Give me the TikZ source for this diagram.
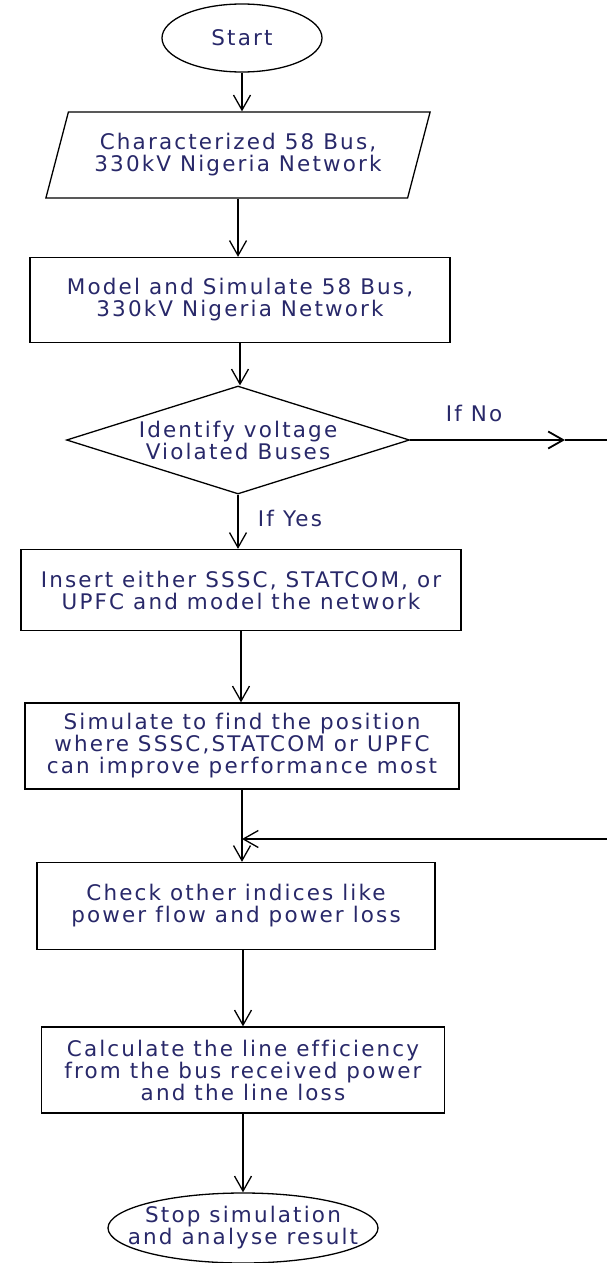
\documentclass[tikz,border=0pt]{standalone}
\usepackage{fontspec}
\newfontfamily\flowfont{DejaVu Sans}[LetterSpace=10,Ligatures=CommonOff]
\usetikzlibrary{shapes.geometric,arrows.meta}
\definecolor{navytext}{RGB}{40,40,105}

\begin{document}
\begin{tikzpicture}[
    x=1pt,y=-1pt,
    every node/.style={font=\flowfont\fontsize{21.5}{22}\selectfont, text=navytext, align=center, inner sep=0pt},
    arr/.style={-{Straight Barb[length=15pt,width=17pt]}, line width=1.3pt},
    box/.style={draw, line width=1.3pt, rectangle},
    term/.style={draw, line width=1.3pt, ellipse},
    io/.style={draw, line width=1.3pt, trapezium, trapezium left angle=66, trapezium right angle=114, trapezium stretches=true},
    decide/.style={draw, line width=1.3pt, diamond, aspect=3.2}
    ]
    \useasboundingbox (0,0) rectangle (607,1263);
    \node[term, minimum width=160pt, minimum height=68pt] (start) at (242,38) {Start};
    \node[io, minimum width=385pt, minimum height=86pt] (charac) at (238,155) {Characterized 58 Bus,\\330kV Nigeria Network};
    \node[box, minimum width=420pt, minimum height=85pt] (model) at (240,300) {Model and Simulate 58 Bus,\\330kV Nigeria Network};
    \node[decide, minimum width=343pt, minimum height=108pt] (ident) at (238,440) {Identify voltage\\Violated Buses};
    \node (ifno) at (474,413) {If No};
    \node (ifyes) at (290,518) {If Yes};
    \node[box, minimum width=440pt, minimum height=81pt] (insert) at (241,590) {Insert either SSSC, STATCOM, or\\UPFC and model the network};
    \node[box, minimum width=434pt, minimum height=86pt] (simul) at (242,746) {Simulate to find the position\\where SSSC,STATCOM or UPFC\\can improve performance most};
    \node[box, minimum width=398pt, minimum height=87pt] (check) at (236,906) {Check other indices like\\power flow and power loss};
    \node[box, minimum width=403pt, minimum height=86pt] (calc) at (243,1070) {Calculate the line efficiency\\from the bus received power\\and the line loss};
    \node[term, minimum width=270pt, minimum height=70pt] (stop) at (243,1228) {};
    \node (stoptxt) at (stop.center) {Stop simulation\\and analyse result};
    \coordinate (notip) at (565,440);
    \coordinate (noend) at (607,440);
    \coordinate (loopin) at (607,839);
    \draw[arr] (start.south) -- (start.south |- charac.north);
    \draw[arr] (charac.south) -- (charac.south |- model.north);
    \draw[arr] (model.south) -- (model.south |- ident.north);
    \draw[arr] (ident.south) -- (ident.south |- insert.north);
    \draw[arr] (insert.south) -- (insert.south |- simul.north);
    \draw[arr] (simul.south) -- (simul.south |- check.north);
    \draw[arr] (calc.north |- check.south) -- (calc.north);
    \draw[arr] (calc.south) -- (calc.south |- stop.north);
    \draw[arr, line width=1.8pt] (ident.east) -- (notip);
    \draw[line width=1.3pt] (notip) -- (noend);
    \draw[arr] (loopin) -- (loopin -| simul.south);
\end{tikzpicture}
\end{document}
